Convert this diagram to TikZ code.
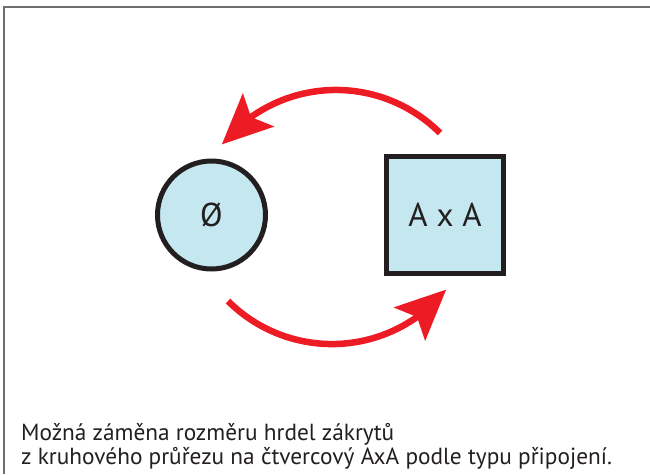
\documentclass[tikz,border=0pt]{standalone}
\usepackage{fontspec}
\setmainfont{PT Sans}
\usetikzlibrary{arrows.meta,bending}
\definecolor{redarrow}{HTML}{ED1C24}
\definecolor{lightblue}{HTML}{C4E7F0}
\definecolor{outline}{HTML}{231F20}
\definecolor{framegray}{HTML}{6D6E71}
\tikzset{
  shapebox/.style={draw=outline, fill=lightblue, line width=5pt, inner sep=0pt, text=outline, font=\fontsize{33}{36}\selectfont},
  redarc/.style={draw=redarrow, line width=6.5pt, -{Stealth[length=50pt, width=45pt, inset=10pt, flex]}},
  captext/.style={anchor=base west, inner sep=0pt, text=outline, font=\fontsize{23.3}{26}\selectfont}
}
\begin{document}
\begin{tikzpicture}[x=1pt,y=-1pt]
\useasboundingbox (0,0) rectangle (650,474);
\draw[framegray, line width=2pt] (650,6.7) -- (4.3,6.7) -- (4.3,474);
\node[shapebox, circle, minimum size=108pt] (round) at (211.5,215) {Ø};
\node[shapebox, rectangle, minimum size=117pt] (square) at (445,215) {A x A};
\coordinate (topstart) at (440,133);
\coordinate (botstart) at (228,301);
\draw[redarc] (topstart) arc[start angle=-45, end angle=-141, radius=147];
\draw[redarc] (botstart) arc[start angle=135, end angle=39, radius=147];
\node[captext] (cap1) at (21,440) {Možná záměna rozměru hrdel zákrytů};
\node[captext] (cap2) at (21,464) {z kruhového průřezu na čtvercový AxA podle typu připojení.};
\end{tikzpicture}
\end{document}
